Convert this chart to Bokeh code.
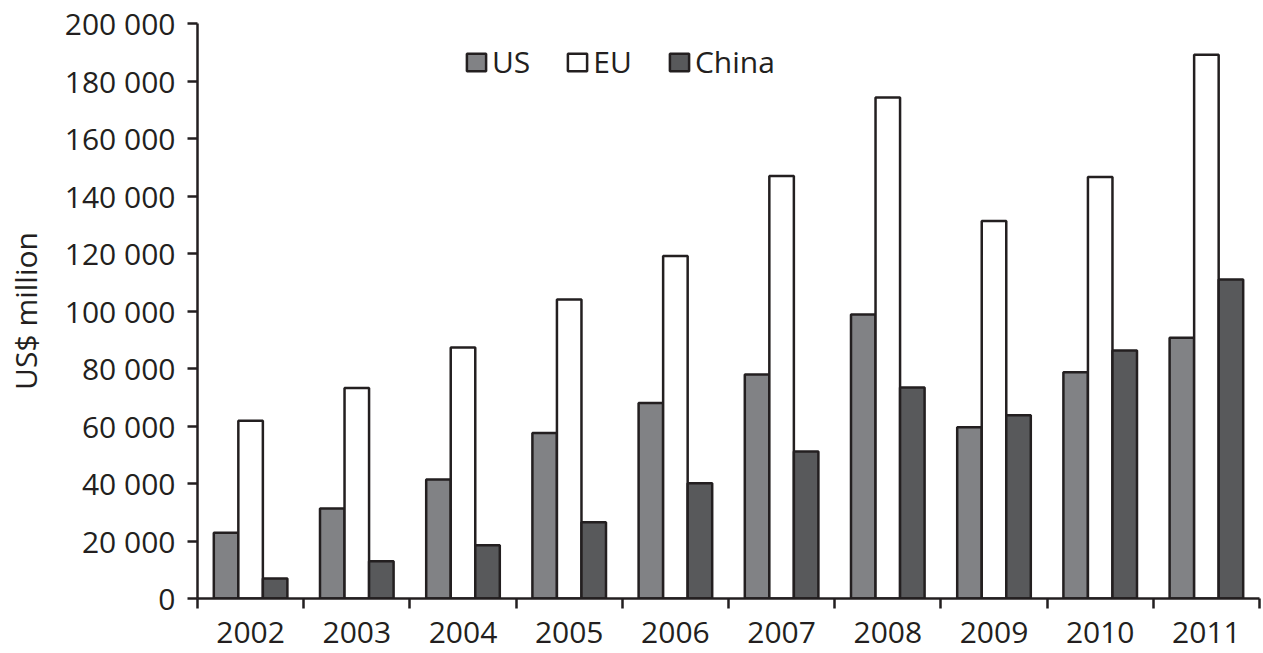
import numpy as np
from bokeh.plotting import figure
from bokeh.models import Range1d, FixedTicker, Legend, LegendItem, ColumnDataSource
from bokeh.embed import file_html
from bokeh.resources import INLINE

# ---- data ----
years = ["2002", "2003", "2004", "2005", "2006", "2007", "2008", "2009", "2010", "2011"]
us = [22900, 31300, 41400, 57600, 68000, 77900, 98800, 59600, 78700, 90700]
eu = [61800, 73200, 87300, 104000, 119100, 147000, 174300, 131300, 146600, 189100]
china = [7000, 13000, 18500, 26500, 40100, 51100, 73400, 63700, 86300, 111000]
series_names = ["US", "EU", "China"]
series_values = [us, eu, china]
series_colors = ["#818285", "#ffffff", "#58595b"]
y_ticks = [0, 20000, 40000, 60000, 80000, 100000, 120000, 140000, 160000, 180000, 200000]
y_tick_labels = ["0", "20 000", "40 000", "60 000", "80 000", "100 000",
                 "120 000", "140 000", "160 000", "180 000", "200 000"]
y_label = "US$ million"

INK = "#231f20"
FONT = "Open Sans"
FS = "30px"

n = len(years)
centers = np.arange(n) + 0.5
bar_w = 0.231

p = figure(width=1262, height=652,
           x_range=Range1d(0, n), y_range=Range1d(0, 200000),
           output_backend="svg", toolbar_location=None,
           min_border_left=197, min_border_right=3,
           min_border_top=23, min_border_bottom=54)

renderers = []
for i, (name, vals, col) in enumerate(zip(series_names, series_values, series_colors)):
    src = ColumnDataSource(dict(x=centers + (i - 1) * bar_w, top=vals))
    r = p.vbar(x="x", top="top", bottom=0, width=bar_w, source=src,
               fill_color=col, line_color=INK, line_width=2.5)
    renderers.append(r)

legend = Legend(items=[LegendItem(label=nm, renderers=[r]) for nm, r in zip(series_names, renderers)],
                location=(267, 516), orientation="horizontal",
                glyph_width=24, glyph_height=22, label_standoff=4, spacing=35,
                padding=0, margin=0, border_line_alpha=0, background_fill_alpha=0,
                label_text_font=FONT, label_text_font_size=FS, label_text_color=INK)
p.add_layout(legend)

p.xgrid.visible = False
p.ygrid.visible = False
p.outline_line_color = None

# y axis
ya = p.yaxis[0]
ya.ticker = FixedTicker(ticks=y_ticks, minor_ticks=[])
ya.major_label_overrides = {t: l for t, l in zip(y_ticks, y_tick_labels)}
ya.axis_line_width = 2.5
ya.axis_line_color = INK
ya.major_tick_line_color = INK
ya.major_tick_line_width = 2.5
ya.major_tick_out = 10
ya.major_tick_in = 0
ya.major_label_standoff = 12
ya.major_label_text_font = FONT
ya.major_label_text_font_size = FS
ya.major_label_text_color = INK
ya.axis_label = y_label
ya.axis_label_text_font = FONT
ya.axis_label_text_font_size = FS
ya.axis_label_text_font_style = "normal"
ya.axis_label_text_color = INK
ya.axis_label_standoff = 16

# x axis
xa = p.xaxis[0]
xa.ticker = FixedTicker(ticks=list(centers), minor_ticks=list(range(n + 1)))
xa.major_label_overrides = {float(c): y for c, y in zip(centers, years)}
xa.axis_line_width = 2.5
xa.axis_line_color = INK
xa.major_tick_line_color = None
xa.major_tick_out = 0
xa.major_tick_in = 0
xa.minor_tick_line_color = INK
xa.minor_tick_line_width = 2.5
xa.minor_tick_out = 10
xa.minor_tick_in = 0
xa.major_label_standoff = 13
xa.major_label_text_font = FONT
xa.major_label_text_font_size = FS
xa.major_label_text_color = INK

open("out.html", "w").write(file_html(p, INLINE))
